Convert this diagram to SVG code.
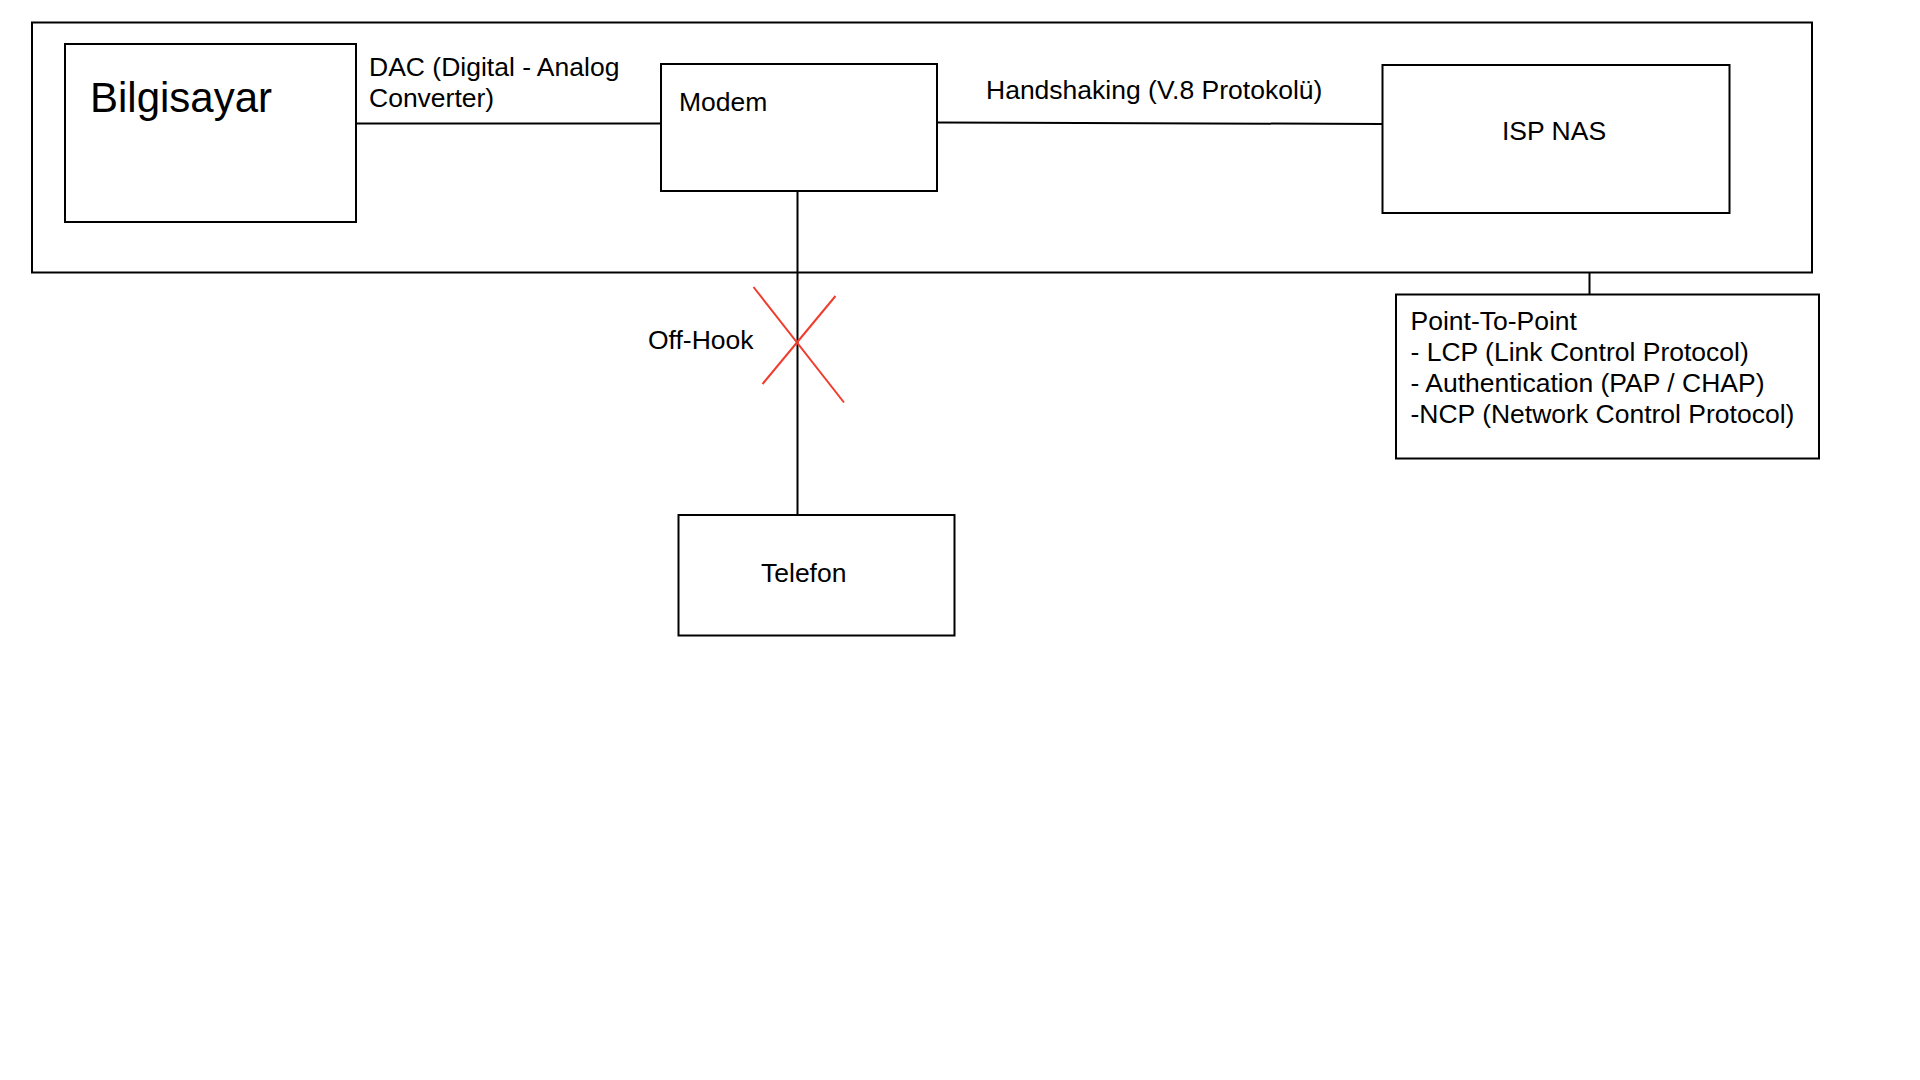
<svg xmlns="http://www.w3.org/2000/svg" width="1920" height="1080" viewBox="0 0 1920 1080">
<style>
.box{fill:#fff;stroke:#000;stroke-width:2}
.frame{fill:none;stroke:#000;stroke-width:2}
.line{fill:none;stroke:#000;stroke-width:2}
.x{fill:none;stroke:#f03c2d;stroke-width:2}
text{font-family:"Liberation Sans",Arial,sans-serif;font-size:26.5px;fill:#000}
</style>
<rect width="1920" height="1080" fill="#fff"/>
<g id="frame"><rect class="frame" x="32" y="22.5" width="1780" height="250"/></g>
<g id="connectors">
<line class="line" x1="355" y1="123.5" x2="660" y2="123.5"/>
<line class="line" x1="938" y1="122.5" x2="1382" y2="124"/>
<line class="line" x1="797.5" y1="191" x2="797.5" y2="515"/>
<line class="line" x1="1589.5" y1="272.5" x2="1589.5" y2="294.5"/>
<line class="x" x1="753.5" y1="287" x2="844" y2="402.5"/>
<line class="x" x1="835.5" y1="296" x2="762.5" y2="384"/>
</g>
<g id="labels">
<text x="369" y="76">DAC (Digital - Analog</text>
<text x="369" y="106.5">Converter)</text>
<text x="986" y="99">Handshaking (V.8 Protokolü)</text>
<text x="648" y="349">Off-Hook</text>
</g>
<g id="bilgisayar"><rect class="box" x="65" y="44" width="291" height="178"/><text x="90" y="111.5" style="font-size:42px">Bilgisayar</text></g>
<g id="modem"><rect class="box" x="661" y="64" width="276" height="127"/><text x="679" y="110.5">Modem</text></g>
<g id="ispnas"><rect class="box" x="1382.5" y="65" width="347" height="148"/><text x="1502" y="139.5">ISP NAS</text></g>
<g id="telefon"><rect class="box" x="678.5" y="515" width="276" height="120.5"/><text x="761" y="581.5">Telefon</text></g>
<g id="ppp"><rect class="box" x="1396" y="294.5" width="423" height="164"/>
<text x="1410.5" y="330">Point-To-Point</text>
<text x="1410.5" y="361">- LCP (Link Control Protocol)</text>
<text x="1410.5" y="391.5">- Authentication (PAP / CHAP)</text>
<text x="1410.5" y="422.5">-NCP (Network Control Protocol)</text>
</g>
</svg>
